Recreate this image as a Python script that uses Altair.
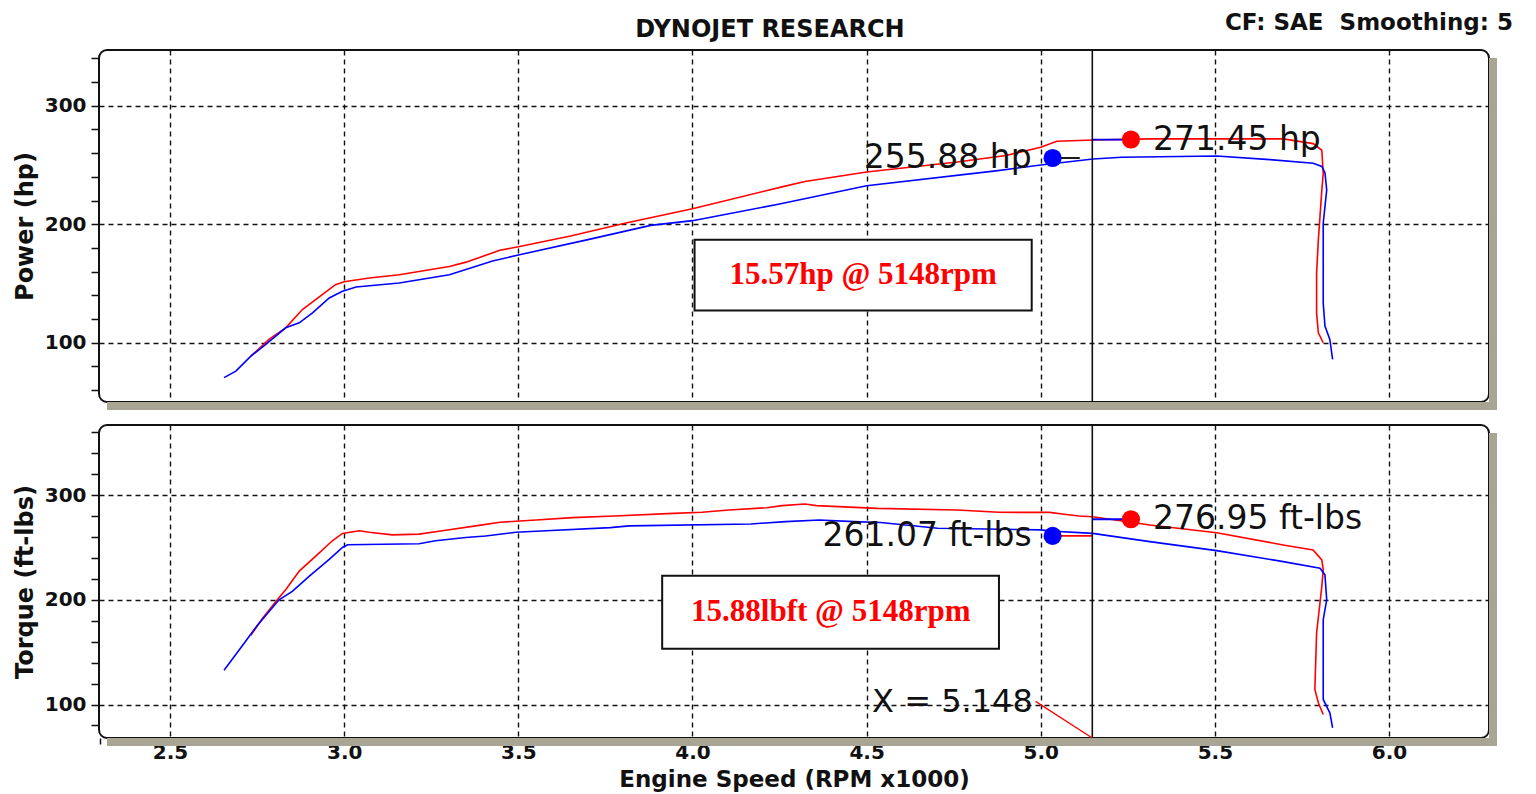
import altair as alt
import pandas as pd

# ---------------- data ----------------
X_DOMAIN = [2.296, 6.287]
HP_DOMAIN = [50, 347]
TQ_DOMAIN = [68, 367]
CURSOR_RPM = 5.148

hp_red_rpm = [2.732, 2.784, 2.832, 2.880, 2.937, 2.975, 3.000, 3.072, 3.158, 3.302, 3.350, 3.447, 3.500,
              3.650, 3.809, 4.000, 4.257, 4.323, 4.500, 4.760, 4.900, 5.000, 5.046, 5.150, 5.313, 5.696,
              5.782, 5.807, 5.811, 5.807, 5.797, 5.792, 5.792, 5.797, 5.811]
hp_red_val = [88.7, 102.8, 112.6, 128.0, 140.6, 149.0, 151.4, 154.6, 157.4, 164.4, 168.0, 178.0, 181.0,
              190.0, 201.0, 213.0, 231.5, 236.0, 244.0, 252.5, 258.0, 265.0, 270.0, 271.0, 272.0, 272.0,
              268.0, 262.4, 242.9, 228.8, 186.8, 158.8, 125.2, 108.4, 100.0]

hp_blue_rpm = [2.655, 2.689, 2.732, 2.775, 2.832, 2.871, 2.909, 2.957, 2.995, 3.034, 3.158, 3.302, 3.426,
               3.500, 3.700, 3.880, 4.000, 4.250, 4.500, 4.871, 5.000, 5.150, 5.232, 5.505, 5.658, 5.782,
               5.807, 5.816, 5.821, 5.816, 5.811, 5.811, 5.816, 5.830, 5.838]
hp_blue_val = [70.6, 76.0, 88.7, 98.6, 112.6, 116.8, 125.2, 137.8, 143.4, 147.0, 150.4, 157.4, 169.0,
               174.0, 187.0, 199.0, 203.0, 217.0, 232.5, 245.0, 250.0, 255.0, 256.5, 257.5, 254.5, 251.5,
               248.8, 243.5, 228.8, 214.8, 200.8, 133.6, 114.0, 102.8, 86.0]

tq_red_rpm = [2.732, 2.765, 2.808, 2.832, 2.871, 2.919, 2.966, 2.995, 3.043, 3.072, 3.138, 3.215, 3.282,
              3.397, 3.447, 3.551, 3.655, 3.776, 3.945, 4.027, 4.104, 4.214, 4.257, 4.323, 4.356, 4.531,
              4.760, 4.880, 5.026, 5.067, 5.110, 5.149, 5.313, 5.505, 5.696, 5.782, 5.807, 5.811, 5.807,
              5.792, 5.787, 5.797, 5.811]
tq_red_val = [166.0, 182.2, 200.0, 209.7, 227.4, 242.0, 256.4, 263.4, 266.0, 264.5, 262.0, 262.8, 266.0,
              271.6, 274.1, 276.3, 278.5, 280.0, 282.6, 283.6, 285.8, 288.0, 290.0, 291.5, 290.0, 287.4,
              285.8, 283.6, 283.5, 281.7, 280.0, 279.3, 271.4, 264.1, 252.4, 247.6, 238.1, 228.6, 212.7,
              168.3, 114.3, 101.6, 90.5]

tq_blue_rpm = [2.655, 2.708, 2.751, 2.813, 2.851, 2.900, 2.957, 2.995, 3.010, 3.215, 3.262, 3.349, 3.406,
               3.493, 3.580, 3.764, 3.818, 4.168, 4.267, 4.365, 4.463, 4.540, 4.704, 5.000, 5.026, 5.149,
               5.313, 5.505, 5.696, 5.802, 5.816, 5.821, 5.811, 5.811, 5.830, 5.838]
tq_blue_val = [132.8, 156.4, 175.8, 200.0, 208.0, 222.6, 238.7, 250.0, 252.6, 253.5, 256.4, 259.6, 261.0,
               264.5, 266.0, 269.0, 270.6, 272.5, 274.7, 276.3, 274.7, 273.8, 268.4, 266.8, 265.7, 263.5,
               255.6, 247.0, 236.5, 230.2, 223.8, 200.0, 181.0, 104.8, 92.0, 77.8]

hp_dot_rpm = [5.034, 5.259]
hp_dot_val = [255.88, 271.45]
hp_dot_run = ["blue", "red"]
hp_dot_label = ["255.88 hp", "271.45 hp"]

tq_dot_rpm = [5.034, 5.259]
tq_dot_val = [261.07, 276.95]
tq_dot_run = ["blue", "red"]
tq_dot_label = ["261.07 ft-lbs", "276.95 ft-lbs"]

# short leader segments drawn by the dyno software near the markers
hp_lead_x1 = [5.034, CURSOR_RPM]
hp_lead_x2 = [5.112, 5.259]
hp_lead_y = [255.88, 271.45]
hp_lead_col = ["#000000", "#0000ff"]
tq_lead_x1 = [5.034, CURSOR_RPM]
tq_lead_x2 = [CURSOR_RPM, 5.259]
tq_lead_y = [261.07, 276.95]
tq_lead_col = ["#ff0000", "#0000ff"]

hp_box = {"x1": 4.006, "x2": 4.974, "y1": 127.1, "y2": 186.8, "tx": 4.490, "ty": 157.0,
          "text": "15.57hp @ 5148rpm"}
tq_box = {"x1": 3.913, "x2": 4.880, "y1": 153.3, "y2": 222.9, "tx": 4.397, "ty": 188.5,
          "text": "15.88lbft @ 5148rpm"}

xlabel_text = "X = 5.148"
xlabel_pos = [4.977, 102.0]
xlead = [4.985, 103.0, CURSOR_RPM, 68.0]

title_text = "DYNOJET RESEARCH"
corner_text = "CF: SAE\u00a0 Smoothing: 5"
x_title = "Engine Speed (RPM x1000)"
hp_title = "Power (hp)"
tq_title = "Torque (ft-lbs)"

x_tick_values = [round(2.3 + 0.1 * i, 1) for i in range(40)]
hp_tick_values = list(range(60, 341, 20))
tq_tick_values = list(range(80, 361, 20))

W = 1390
H_TOP = 352
H_BOT = 313
FONT = "DejaVu Sans"
SHADOW = "#a8a594"


def curves(r_rpm, r_val, b_rpm, b_val):
    rows = []
    for i, (x, y) in enumerate(zip(r_rpm, r_val)):
        rows.append({"rpm": x, "val": y, "run": "red", "i": i})
    for i, (x, y) in enumerate(zip(b_rpm, b_val)):
        rows.append({"rpm": x, "val": y, "run": "blue", "i": i})
    return pd.DataFrame(rows)


color = alt.Color("run:N", scale=alt.Scale(domain=["red", "blue"], range=["#ff0000", "#0000ff"]), legend=None)

major_x = "abs(datum.value * 2 - round(datum.value * 2)) < 0.001"


def x_enc(bottom):
    if bottom:
        ax = alt.Axis(values=x_tick_values, tickCount=200, title=x_title, grid=True,
                      gridOpacity={"condition": {"test": major_x, "value": 1}, "value": 0},
                      labelExpr=major_x + " ? format(datum.value, '.1f') : ''",
                      labelOverlap=False, labelFlush=False,
                      gridDash=[5, 4], gridColor="#111", gridWidth=1.4,
                      domain=False, ticks=True, tickSize=6, tickColor="#111", tickWidth=1.5,
                      labelFont=FONT, labelFontWeight="bold", labelFontSize=20, labelColor="#111",
                      labelPadding=-2,
                      titleFont=FONT, titleFontWeight="bold", titleFontSize=23, titleColor="#111",
                      titlePadding=6)
    else:
        ax = alt.Axis(values=x_tick_values, tickCount=200, title=None, grid=True,
                      gridOpacity={"condition": {"test": major_x, "value": 1}, "value": 0},
                      labels=False, ticks=False, domain=False,
                      gridDash=[5, 4], gridColor="#111", gridWidth=1.4)
    return alt.X("rpm:Q", scale=alt.Scale(domain=X_DOMAIN, nice=False, zero=False), axis=ax)


def y_enc(title, domain, values):
    ax = alt.Axis(values=values, tickCount=200, title=title, grid=True,
                  gridOpacity={"condition": {"test": "datum.value % 100 == 0", "value": 1}, "value": 0},
                  labelExpr="datum.value % 100 == 0 ? datum.label : ''",
                  labelOverlap=False, labelFlush=False,
                  gridDash=[5, 4], gridColor="#111", gridWidth=1.4,
                  domain=False, ticks=True, tickSize=8, tickColor="#111", tickWidth=1.5,
                  labelFont=FONT, labelFontWeight="bold", labelFontSize=20, labelColor="#111",
                  labelPadding=5,
                  titleFont=FONT, titleFontWeight="bold", titleFontSize=24, titleColor="#111",
                  titlePadding=7)
    return alt.Y("val:Q", scale=alt.Scale(domain=domain, nice=False, zero=False), axis=ax)


def panel(df, dots, leads, box, y_title, y_domain, y_values, height, bottom):
    X = x_enc(bottom)
    Y = y_enc(y_title, y_domain, y_values)
    one = pd.DataFrame({"k": [0]})

    shadow_b = alt.Chart(one).mark_rect(color=SHADOW).encode(
        x=alt.value(8), x2=alt.value(W + 8), y=alt.value(height), y2=alt.value(height + 8))
    shadow_r = alt.Chart(one).mark_rect(color=SHADOW).encode(
        x=alt.value(W), x2=alt.value(W + 8), y=alt.value(8), y2=alt.value(height + 8))

    lines = alt.Chart(df).mark_line(strokeWidth=1.6, interpolate="linear").encode(
        x=X, y=Y, color=color, detail="run:N", order="i:Q")

    cursor = alt.Chart(pd.DataFrame({"rpm": [CURSOR_RPM]})).mark_rule(
        color="#111", strokeWidth=1.6).encode(x=X)

    lead = alt.Chart(leads).mark_rule(strokeWidth=1.8).encode(
        x=X, x2="rpm2:Q", y=Y, color=alt.Color("col:N", scale=None))

    rect = alt.Chart(pd.DataFrame([box])).mark_rect(
        fill="white", stroke="#111", strokeWidth=2).encode(
        x=alt.X("x1:Q", scale=alt.Scale(domain=X_DOMAIN, nice=False, zero=False)), x2="x2:Q",
        y=alt.Y("y1:Q", scale=alt.Scale(domain=y_domain, nice=False, zero=False)), y2="y2:Q")
    rtext = alt.Chart(pd.DataFrame([box])).mark_text(
        font="Liberation Serif", fontWeight="bold", fontSize=31, color="#ff0000",
        align="center", baseline="middle").encode(
        x=alt.X("tx:Q"), y=alt.Y("ty:Q"), text="text:N")

    pts = alt.Chart(dots).mark_circle(size=330, opacity=1).encode(x=X, y=Y, color=color)
    lab_l = alt.Chart(dots[dots["run"] == "blue"]).mark_text(
        font=FONT, fontSize=33, color="#111", align="right", baseline="middle", dx=-21).encode(
        x=X, y=Y, text="label:N")
    lab_r = alt.Chart(dots[dots["run"] == "red"]).mark_text(
        font=FONT, fontSize=33, color="#111", align="left", baseline="middle", dx=22).encode(
        x=X, y=Y, text="label:N")

    layers = [shadow_b, shadow_r, lines, rect, rtext, lead, cursor, pts, lab_l, lab_r]

    if bottom:
        xl = alt.Chart(pd.DataFrame({"rpm": [xlabel_pos[0]], "val": [xlabel_pos[1]], "t": [xlabel_text]})
                       ).mark_text(font=FONT, fontSize=32, color="#111", align="right",
                                   baseline="middle").encode(x=X, y=Y, text="t:N")
        xr = alt.Chart(pd.DataFrame({"rpm": [xlead[0]], "val": [xlead[1]],
                                     "rpm2": [xlead[2]], "val2": [xlead[3]]})).mark_rule(
            color="#ff0000", strokeWidth=1.3).encode(x=X, y=Y, x2="rpm2:Q", y2="val2:Q")
        layers += [xl, xr]
    else:
        t1 = alt.Chart(pd.DataFrame({"t": [title_text]})).mark_text(
            font=FONT, fontWeight="bold", fontSize=24, color="#111", align="center",
            baseline="middle").encode(x=alt.value(671), y=alt.value(-20), text="t:N")
        t2 = alt.Chart(pd.DataFrame({"t": [corner_text]})).mark_text(
            font=FONT, fontWeight="bold", fontSize=23, color="#111", align="right",
            baseline="middle").encode(x=alt.value(1414), y=alt.value(-27), text="t:N")
        layers += [t1, t2]

    return alt.layer(*layers).properties(width=W, height=height)


hp_df = curves(hp_red_rpm, hp_red_val, hp_blue_rpm, hp_blue_val)
tq_df = curves(tq_red_rpm, tq_red_val, tq_blue_rpm, tq_blue_val)
hp_dots = pd.DataFrame({"rpm": hp_dot_rpm, "val": hp_dot_val, "run": hp_dot_run, "label": hp_dot_label})
tq_dots = pd.DataFrame({"rpm": tq_dot_rpm, "val": tq_dot_val, "run": tq_dot_run, "label": tq_dot_label})
hp_leads = pd.DataFrame({"rpm": hp_lead_x1, "rpm2": hp_lead_x2, "val": hp_lead_y, "col": hp_lead_col})
tq_leads = pd.DataFrame({"rpm": tq_lead_x1, "rpm2": tq_lead_x2, "val": tq_lead_y, "col": tq_lead_col})

top = panel(hp_df, hp_dots, hp_leads, hp_box, hp_title, HP_DOMAIN, hp_tick_values, H_TOP, False)
bot = panel(tq_df, tq_dots, tq_leads, tq_box, tq_title, TQ_DOMAIN, tq_tick_values, H_BOT, True)

chart = alt.vconcat(top, bot, spacing=23, bounds="flush").properties(
    padding={"left": 4, "top": 3, "right": 8, "bottom": 0}
).configure(background="white").configure_view(
    stroke="#111", strokeWidth=2, cornerRadius=8, fill="white"
)

chart.save("out.html", embed_options={"renderer": "svg", "actions": False})
